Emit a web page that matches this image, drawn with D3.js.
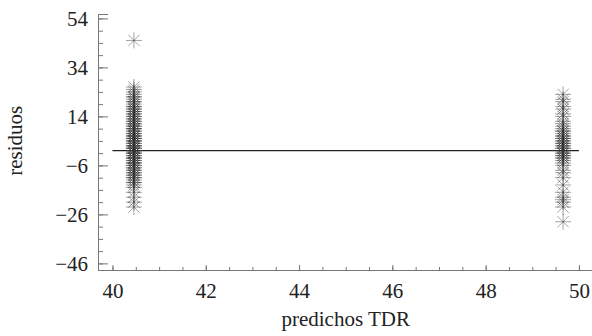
<!DOCTYPE html>
<html>
<head>
<meta charset="utf-8">
<script src="https://cdn.jsdelivr.net/npm/d3@7"></script>
<style>
  body { margin: 0; background: #fff; }
</style>
</head>
<body>
<div id="chart"></div>
<script>
// fitted values of the two groups
var groupX = [40.46, 49.66];

// residuals, group at x = 40.46
var residLeft = [45, 26, 25, 24, 23, 22, 21, 20, 19, 18, 17, 16, 15, 14, 13, 12, 11, 10, 9, 8,
  7, 6, 5, 4, 3, 2, 1, 0, -1, -2, -3, -4, -5, -6, -7, -8, -9, -10, -11, -12, -13, -14,
  -15, -17, -19, -21, -23, 3, 5, 1, -1, -3, 7, 9, 11, -5, -7, 2, 0, -2, 4, 6, 8, 12, 15, 18,
  20, 17, 13, 10, 6, 2, -4, -8, -11, -13, 14, 9, 4, -1, -6, -9, 22, 16, 1, -3, -10, 5, 0, -5];

// residuals for the group at x = 49.66
var residRight = [23, 21, 20, 18, 17, 15, 14, 12, 11, 10, 9, 8, 7, 6, 5, 4, 3, 2, 1, 0,
  -1, -2, -3, -4, -5, -6, -8, -9, -11, -14, -17, -19, -21, -23, -29, 2, 0, -2, 4, 6,
  3, 1, -1, 5, 8, -3, -20];

var yTicks = [54, 34, 14, -6, -26, -46];
var xTicks = [40, 42, 44, 46, 48, 50];

var serif = "'Liberation Serif', 'DejaVu Serif', 'Times New Roman', serif";

var margin = { top: 14, right: 0, bottom: 66, left: 98 },
  width = 592 - margin.left - margin.right,
  height = 336 - margin.top - margin.bottom;

var svg = d3.select("#chart").append("svg")
  .attr("width", 592)
  .attr("height", 336)
  .append("g")
  .attr("transform", "translate(" + margin.left + "," + margin.top + ")");

var x = d3.scaleLinear().domain([39.69, 50.28]).range([0, width]);
var y = d3.scaleLinear().domain([-48.7, 55.8]).range([height, 0]);

// axes: major and minor ticks drawn inward
var yMinor = d3.range(-46, 55, 5);
var xMinor = d3.range(40, 50.3, 0.5);

svg.append("g")
  .attr("class", "y minor")
  .call(d3.axisRight(y).tickValues(yMinor).tickSize(5).tickFormat(""));
svg.append("g")
  .attr("class", "y axis")
  .call(d3.axisRight(y).tickValues(yTicks).tickSize(10).tickFormat(""));
svg.append("g")
  .attr("class", "y labels")
  .call(d3.axisLeft(y).tickValues(yTicks).tickSize(0).tickPadding(10).tickFormat(d3.format("d")))
  .call(g => g.select(".domain").remove());

svg.append("g")
  .attr("class", "x minor")
  .attr("transform", "translate(0," + height + ")")
  .call(d3.axisTop(x).tickValues(xMinor).tickSize(3).tickFormat(""));
svg.append("g")
  .attr("class", "x axis")
  .attr("transform", "translate(0," + height + ")")
  .call(d3.axisTop(x).tickValues(xTicks).tickSize(5).tickFormat(""));
svg.append("g")
  .attr("class", "x labels")
  .attr("transform", "translate(0," + height + ")")
  .call(d3.axisBottom(x).tickValues(xTicks).tickSize(0).tickPadding(13).tickFormat(d3.format("d")))
  .call(g => g.select(".domain").remove());

svg.selectAll(".domain, .tick line").attr("stroke", "#777");
svg.selectAll(".labels").attr("font-family", serif).attr("font-size", 21);
svg.selectAll(".labels text").attr("fill", "#222");

// zero line
svg.append("line")
  .attr("x1", x(40)).attr("x2", x(50))
  .attr("y1", y(0)).attr("y2", y(0))
  .attr("stroke", "#222").attr("stroke-width", 1.3);

// asterisk markers
var pts = residLeft.map(v => ({ x: groupX[0], y: v }))
  .concat(residRight.map(v => ({ x: groupX[1], y: v })));
var r = 8;
var star = "M0," + (-r) + "V" + r + "M" + (-r) + ",0H" + r +
  "M" + (-r * 0.71) + "," + (-r * 0.71) + "L" + (r * 0.71) + "," + (r * 0.71) +
  "M" + (-r * 0.71) + "," + (r * 0.71) + "L" + (r * 0.71) + "," + (-r * 0.71);

svg.selectAll(".pt")
  .data(pts)
  .enter().append("path")
  .attr("class", "pt")
  .attr("transform", d => "translate(" + x(d.x) + "," + y(d.y) + ")")
  .attr("d", star)
  .attr("fill", "none")
  .attr("stroke", "#333")
  .attr("stroke-opacity", 0.45)
  .attr("stroke-width", 1);

// titles
svg.append("text")
  .attr("x", x(45))
  .attr("y", height + 56)
  .attr("text-anchor", "middle")
  .attr("font-family", serif)
  .attr("font-size", 21)
  .attr("fill", "#222")
  .text("predichos TDR");

svg.append("text")
  .attr("transform", "translate(" + (-76) + "," + (y(0) - 10) + ") rotate(-90)")
  .attr("text-anchor", "middle")
  .attr("font-family", serif)
  .attr("font-size", 21)
  .attr("fill", "#222")
  .text("residuos");
</script>
</body>
</html>
